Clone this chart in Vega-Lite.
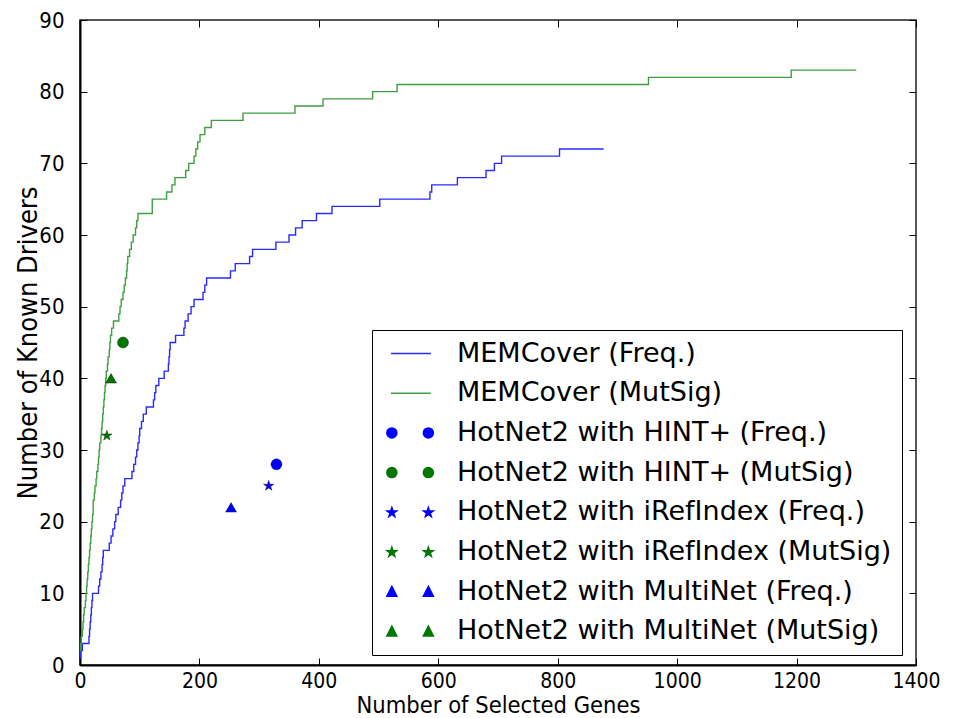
{
  "$schema": "https://vega.github.io/schema/vega-lite/v6.json",
  "width": 836,
  "height": 645,
  "autosize": {"type": "none"},
  "padding": {"left": 80, "top": 20, "right": 45, "bottom": 53},
  "background": "white",
  "config": {"view": {"stroke": "#222222", "strokeWidth": 1.5}},
  "datasets": {
    "curves": [
      {"series": "MEMCover (Freq.)", "genes": 0, "drivers": 1},
      {"series": "MEMCover (Freq.)", "genes": 1, "drivers": 2},
      {"series": "MEMCover (Freq.)", "genes": 4, "drivers": 3},
      {"series": "MEMCover (Freq.)", "genes": 15, "drivers": 4},
      {"series": "MEMCover (Freq.)", "genes": 16, "drivers": 5},
      {"series": "MEMCover (Freq.)", "genes": 17, "drivers": 6},
      {"series": "MEMCover (Freq.)", "genes": 18, "drivers": 7},
      {"series": "MEMCover (Freq.)", "genes": 19, "drivers": 8},
      {"series": "MEMCover (Freq.)", "genes": 20, "drivers": 9},
      {"series": "MEMCover (Freq.)", "genes": 21, "drivers": 10},
      {"series": "MEMCover (Freq.)", "genes": 31, "drivers": 11},
      {"series": "MEMCover (Freq.)", "genes": 33, "drivers": 12},
      {"series": "MEMCover (Freq.)", "genes": 35, "drivers": 13},
      {"series": "MEMCover (Freq.)", "genes": 37, "drivers": 14},
      {"series": "MEMCover (Freq.)", "genes": 38, "drivers": 15},
      {"series": "MEMCover (Freq.)", "genes": 39, "drivers": 16},
      {"series": "MEMCover (Freq.)", "genes": 49, "drivers": 17},
      {"series": "MEMCover (Freq.)", "genes": 52, "drivers": 18},
      {"series": "MEMCover (Freq.)", "genes": 55, "drivers": 19},
      {"series": "MEMCover (Freq.)", "genes": 58, "drivers": 20},
      {"series": "MEMCover (Freq.)", "genes": 60, "drivers": 21},
      {"series": "MEMCover (Freq.)", "genes": 64, "drivers": 22},
      {"series": "MEMCover (Freq.)", "genes": 68, "drivers": 23},
      {"series": "MEMCover (Freq.)", "genes": 70, "drivers": 24},
      {"series": "MEMCover (Freq.)", "genes": 72, "drivers": 25},
      {"series": "MEMCover (Freq.)", "genes": 75, "drivers": 26},
      {"series": "MEMCover (Freq.)", "genes": 87, "drivers": 27},
      {"series": "MEMCover (Freq.)", "genes": 90, "drivers": 28},
      {"series": "MEMCover (Freq.)", "genes": 93, "drivers": 29},
      {"series": "MEMCover (Freq.)", "genes": 95, "drivers": 30},
      {"series": "MEMCover (Freq.)", "genes": 97, "drivers": 31},
      {"series": "MEMCover (Freq.)", "genes": 99, "drivers": 32},
      {"series": "MEMCover (Freq.)", "genes": 100, "drivers": 33},
      {"series": "MEMCover (Freq.)", "genes": 103, "drivers": 34},
      {"series": "MEMCover (Freq.)", "genes": 106, "drivers": 35},
      {"series": "MEMCover (Freq.)", "genes": 111, "drivers": 36},
      {"series": "MEMCover (Freq.)", "genes": 123, "drivers": 37},
      {"series": "MEMCover (Freq.)", "genes": 125, "drivers": 38},
      {"series": "MEMCover (Freq.)", "genes": 127, "drivers": 39},
      {"series": "MEMCover (Freq.)", "genes": 132, "drivers": 40},
      {"series": "MEMCover (Freq.)", "genes": 141, "drivers": 41},
      {"series": "MEMCover (Freq.)", "genes": 148, "drivers": 42},
      {"series": "MEMCover (Freq.)", "genes": 149, "drivers": 43},
      {"series": "MEMCover (Freq.)", "genes": 150, "drivers": 44},
      {"series": "MEMCover (Freq.)", "genes": 151, "drivers": 45},
      {"series": "MEMCover (Freq.)", "genes": 160, "drivers": 46},
      {"series": "MEMCover (Freq.)", "genes": 174, "drivers": 47},
      {"series": "MEMCover (Freq.)", "genes": 176, "drivers": 48},
      {"series": "MEMCover (Freq.)", "genes": 181, "drivers": 49},
      {"series": "MEMCover (Freq.)", "genes": 186, "drivers": 50},
      {"series": "MEMCover (Freq.)", "genes": 191, "drivers": 51},
      {"series": "MEMCover (Freq.)", "genes": 206, "drivers": 52},
      {"series": "MEMCover (Freq.)", "genes": 209, "drivers": 53},
      {"series": "MEMCover (Freq.)", "genes": 212, "drivers": 54},
      {"series": "MEMCover (Freq.)", "genes": 252, "drivers": 55},
      {"series": "MEMCover (Freq.)", "genes": 260, "drivers": 56},
      {"series": "MEMCover (Freq.)", "genes": 284, "drivers": 57},
      {"series": "MEMCover (Freq.)", "genes": 289, "drivers": 58},
      {"series": "MEMCover (Freq.)", "genes": 328, "drivers": 59},
      {"series": "MEMCover (Freq.)", "genes": 350, "drivers": 60},
      {"series": "MEMCover (Freq.)", "genes": 361, "drivers": 61},
      {"series": "MEMCover (Freq.)", "genes": 372, "drivers": 62},
      {"series": "MEMCover (Freq.)", "genes": 396, "drivers": 63},
      {"series": "MEMCover (Freq.)", "genes": 422, "drivers": 64},
      {"series": "MEMCover (Freq.)", "genes": 502, "drivers": 65},
      {"series": "MEMCover (Freq.)", "genes": 586, "drivers": 66},
      {"series": "MEMCover (Freq.)", "genes": 589, "drivers": 67},
      {"series": "MEMCover (Freq.)", "genes": 632, "drivers": 68},
      {"series": "MEMCover (Freq.)", "genes": 680, "drivers": 69},
      {"series": "MEMCover (Freq.)", "genes": 694, "drivers": 70},
      {"series": "MEMCover (Freq.)", "genes": 706, "drivers": 71},
      {"series": "MEMCover (Freq.)", "genes": 803, "drivers": 72},
      {"series": "MEMCover (Freq.)", "genes": 877, "drivers": 72},
      {"series": "MEMCover (MutSig)", "genes": 0, "drivers": 2},
      {"series": "MEMCover (MutSig)", "genes": 1, "drivers": 3},
      {"series": "MEMCover (MutSig)", "genes": 2, "drivers": 4},
      {"series": "MEMCover (MutSig)", "genes": 4, "drivers": 5},
      {"series": "MEMCover (MutSig)", "genes": 5, "drivers": 6},
      {"series": "MEMCover (MutSig)", "genes": 6, "drivers": 7},
      {"series": "MEMCover (MutSig)", "genes": 7, "drivers": 8},
      {"series": "MEMCover (MutSig)", "genes": 9, "drivers": 9},
      {"series": "MEMCover (MutSig)", "genes": 10, "drivers": 10},
      {"series": "MEMCover (MutSig)", "genes": 11, "drivers": 11},
      {"series": "MEMCover (MutSig)", "genes": 12, "drivers": 12},
      {"series": "MEMCover (MutSig)", "genes": 13, "drivers": 13},
      {"series": "MEMCover (MutSig)", "genes": 14, "drivers": 14},
      {"series": "MEMCover (MutSig)", "genes": 15, "drivers": 15},
      {"series": "MEMCover (MutSig)", "genes": 16, "drivers": 16},
      {"series": "MEMCover (MutSig)", "genes": 17, "drivers": 17},
      {"series": "MEMCover (MutSig)", "genes": 18, "drivers": 18},
      {"series": "MEMCover (MutSig)", "genes": 19, "drivers": 19},
      {"series": "MEMCover (MutSig)", "genes": 20, "drivers": 20},
      {"series": "MEMCover (MutSig)", "genes": 21, "drivers": 21},
      {"series": "MEMCover (MutSig)", "genes": 22, "drivers": 23},
      {"series": "MEMCover (MutSig)", "genes": 24, "drivers": 24},
      {"series": "MEMCover (MutSig)", "genes": 25, "drivers": 25},
      {"series": "MEMCover (MutSig)", "genes": 27, "drivers": 26},
      {"series": "MEMCover (MutSig)", "genes": 28, "drivers": 27},
      {"series": "MEMCover (MutSig)", "genes": 30, "drivers": 28},
      {"series": "MEMCover (MutSig)", "genes": 31, "drivers": 29},
      {"series": "MEMCover (MutSig)", "genes": 32, "drivers": 30},
      {"series": "MEMCover (MutSig)", "genes": 33, "drivers": 31},
      {"series": "MEMCover (MutSig)", "genes": 35, "drivers": 32},
      {"series": "MEMCover (MutSig)", "genes": 36, "drivers": 33},
      {"series": "MEMCover (MutSig)", "genes": 37, "drivers": 34},
      {"series": "MEMCover (MutSig)", "genes": 38, "drivers": 35},
      {"series": "MEMCover (MutSig)", "genes": 39, "drivers": 36},
      {"series": "MEMCover (MutSig)", "genes": 40, "drivers": 37},
      {"series": "MEMCover (MutSig)", "genes": 41, "drivers": 38},
      {"series": "MEMCover (MutSig)", "genes": 42, "drivers": 39},
      {"series": "MEMCover (MutSig)", "genes": 43, "drivers": 40},
      {"series": "MEMCover (MutSig)", "genes": 44, "drivers": 41},
      {"series": "MEMCover (MutSig)", "genes": 46, "drivers": 42},
      {"series": "MEMCover (MutSig)", "genes": 47, "drivers": 43},
      {"series": "MEMCover (MutSig)", "genes": 49, "drivers": 44},
      {"series": "MEMCover (MutSig)", "genes": 50, "drivers": 45},
      {"series": "MEMCover (MutSig)", "genes": 51, "drivers": 46},
      {"series": "MEMCover (MutSig)", "genes": 53, "drivers": 47},
      {"series": "MEMCover (MutSig)", "genes": 56, "drivers": 48},
      {"series": "MEMCover (MutSig)", "genes": 65, "drivers": 49},
      {"series": "MEMCover (MutSig)", "genes": 67, "drivers": 50},
      {"series": "MEMCover (MutSig)", "genes": 69, "drivers": 51},
      {"series": "MEMCover (MutSig)", "genes": 72, "drivers": 52},
      {"series": "MEMCover (MutSig)", "genes": 74, "drivers": 53},
      {"series": "MEMCover (MutSig)", "genes": 76, "drivers": 54},
      {"series": "MEMCover (MutSig)", "genes": 78, "drivers": 55},
      {"series": "MEMCover (MutSig)", "genes": 79, "drivers": 56},
      {"series": "MEMCover (MutSig)", "genes": 80, "drivers": 57},
      {"series": "MEMCover (MutSig)", "genes": 83, "drivers": 58},
      {"series": "MEMCover (MutSig)", "genes": 86, "drivers": 59},
      {"series": "MEMCover (MutSig)", "genes": 89, "drivers": 60},
      {"series": "MEMCover (MutSig)", "genes": 93, "drivers": 61},
      {"series": "MEMCover (MutSig)", "genes": 95, "drivers": 62},
      {"series": "MEMCover (MutSig)", "genes": 97, "drivers": 63},
      {"series": "MEMCover (MutSig)", "genes": 121, "drivers": 65},
      {"series": "MEMCover (MutSig)", "genes": 145, "drivers": 66},
      {"series": "MEMCover (MutSig)", "genes": 154, "drivers": 67},
      {"series": "MEMCover (MutSig)", "genes": 159, "drivers": 68},
      {"series": "MEMCover (MutSig)", "genes": 177, "drivers": 69},
      {"series": "MEMCover (MutSig)", "genes": 182, "drivers": 70},
      {"series": "MEMCover (MutSig)", "genes": 191, "drivers": 71},
      {"series": "MEMCover (MutSig)", "genes": 194, "drivers": 72},
      {"series": "MEMCover (MutSig)", "genes": 197, "drivers": 73},
      {"series": "MEMCover (MutSig)", "genes": 201, "drivers": 74},
      {"series": "MEMCover (MutSig)", "genes": 209, "drivers": 75},
      {"series": "MEMCover (MutSig)", "genes": 220, "drivers": 76},
      {"series": "MEMCover (MutSig)", "genes": 273, "drivers": 77},
      {"series": "MEMCover (MutSig)", "genes": 360, "drivers": 78},
      {"series": "MEMCover (MutSig)", "genes": 407, "drivers": 79},
      {"series": "MEMCover (MutSig)", "genes": 490, "drivers": 80},
      {"series": "MEMCover (MutSig)", "genes": 531, "drivers": 81},
      {"series": "MEMCover (MutSig)", "genes": 952, "drivers": 82},
      {"series": "MEMCover (MutSig)", "genes": 1191, "drivers": 83},
      {"series": "MEMCover (MutSig)", "genes": 1300, "drivers": 83}
    ],
    "points": [
      {"series": "HotNet2 with HINT+ (Freq.)", "genes": 329, "drivers": 28},
      {"series": "HotNet2 with HINT+ (MutSig)", "genes": 72, "drivers": 45},
      {"series": "HotNet2 with iRefIndex (Freq.)", "genes": 316, "drivers": 25},
      {"series": "HotNet2 with iRefIndex (MutSig)", "genes": 45, "drivers": 32},
      {"series": "HotNet2 with MultiNet (Freq.)", "genes": 253, "drivers": 22},
      {"series": "HotNet2 with MultiNet (MutSig)", "genes": 52, "drivers": 40}
    ]
  },
  "layer": [
    {
      "data": {"name": "curves"},
      "mark": {"type": "line", "interpolate": "step-after", "strokeWidth": 1.4},
      "encoding": {
        "x": {
          "field": "genes", "type": "quantitative",
          "scale": {"domain": [0, 1400], "nice": false},
          "axis": {
            "orient": "bottom", "values": [0, 200, 400, 600, 800, 1000, 1200, 1400], "format": "d",
            "title": "Number of Selected Genes",
            "labelFont": "DejaVu Sans Condensed", "labelFontSize": 21, "labelColor": "#000000",
            "titleFont": "DejaVu Sans Condensed", "titleFontSize": 23.5, "titleFontWeight": "normal", "titleColor": "#000000",
            "titlePadding": 2,
            "domainColor": "#000000", "domainWidth": 2, "ticks": false, "tickSize": 0,
            "grid": true, "gridColor": "#000000", "gridOpacity": 1, "gridWidth": 1, "gridDash": [7, 631, 7, 1000],
            "labelPadding": 5, "labelFlush": false, "labelOverlap": false
          }
        },
        "y": {
          "field": "drivers", "type": "quantitative",
          "scale": {"domain": [0, 90], "nice": false},
          "axis": {
            "orient": "left", "values": [0, 10, 20, 30, 40, 50, 60, 70, 80, 90],
            "title": "Number of Known Drivers",
            "labelFont": "DejaVu Sans Condensed", "labelFontSize": 22, "labelColor": "#000000",
            "titleFont": "DejaVu Sans Condensed", "titleFontSize": 27, "titleFontWeight": "normal", "titleColor": "#000000",
            "titleBaseline": "middle", "titleX": -52,
            "domainColor": "#000000", "domainWidth": 2, "ticks": false, "tickSize": 0,
            "grid": true, "gridColor": "#000000", "gridOpacity": 1, "gridWidth": 1, "gridDash": [7, 822, 7, 1000],
            "labelPadding": 16, "labelFlush": false, "labelOverlap": false
          }
        },
        "color": {
          "field": "series", "type": "nominal",
          "scale": {
            "domain": ["MEMCover (Freq.)", "MEMCover (MutSig)", "HotNet2 with HINT+ (Freq.)", "HotNet2 with HINT+ (MutSig)", "HotNet2 with iRefIndex (Freq.)", "HotNet2 with iRefIndex (MutSig)", "HotNet2 with MultiNet (Freq.)", "HotNet2 with MultiNet (MutSig)"],
            "range": ["#2a2aff", "#3f9f3f", "#0000ff", "#007800", "#0000ff", "#007800", "#0000ff", "#007800"]
          },
          "legend": {
            "orient": "none", "legendX": 292, "legendY": 310, "title": null,
            "strokeColor": "#000000", "fillColor": "#ffffff", "padding": 10,
            "labelFont": "DejaVu Sans", "labelFontSize": 27, "labelColor": "#000000", "labelLimit": 600,
            "symbolSize": 100, "labelOffset": 48, "rowPadding": 11.7,
            "encode": {
              "symbols": {
                "update": {
                  "shape": {"signal": "datum.index < 2 ? 'M -0.9 0 L 7.07 0' : datum.index < 4 ? 'M 0.27 0 A 1 1 0 1 1 -1.73 0 A 1 1 0 1 1 0.27 0 Z M 7.57 0 A 1 1 0 1 1 5.57 0 A 1 1 0 1 1 7.57 0 Z' : datum.index < 6 ? 'M -0.73 -0.95 L -0.505 -0.259 L 0.221 -0.259 L -0.367 0.168 L -0.142 0.859 L -0.73 0.432 L -1.318 0.859 L -1.093 0.168 L -1.681 -0.259 L -0.955 -0.259 Z M 6.57 -0.95 L 6.795 -0.259 L 7.521 -0.259 L 6.933 0.168 L 7.158 0.859 L 6.57 0.432 L 5.982 0.859 L 6.207 0.168 L 5.619 -0.259 L 6.345 -0.259 Z' : 'M -0.73 -1.05 L 0.27 0.9 L -1.73 0.9 Z M 6.57 -1.05 L 7.57 0.9 L 5.57 0.9 Z'"},
                  "fill": {"signal": "datum.index < 2 ? 'transparent' : (datum.index % 2 == 0 ? '#0000ff' : '#007800')"},
                  "stroke": {"signal": "datum.index == 0 ? '#2a2aff' : (datum.index == 1 ? '#3f9f3f' : 'transparent')"},
                  "strokeWidth": {"value": 1.5},
                  "opacity": {"value": 1}
                }
              }
            }
          }
        }
      }
    },
    {
      "data": {"name": "points"},
      "mark": {"type": "point", "filled": true, "size": 120, "opacity": 1, "stroke": "#000000", "strokeWidth": 0.4},
      "encoding": {
        "x": {"field": "genes", "type": "quantitative"},
        "y": {"field": "drivers", "type": "quantitative"},
        "color": {"field": "series", "type": "nominal"},
        "shape": {
          "field": "series", "type": "nominal",
          "scale": {
            "domain": ["HotNet2 with HINT+ (Freq.)", "HotNet2 with HINT+ (MutSig)", "HotNet2 with iRefIndex (Freq.)", "HotNet2 with iRefIndex (MutSig)", "HotNet2 with MultiNet (Freq.)", "HotNet2 with MultiNet (MutSig)"],
            "range": ["circle", "circle", "M 0 -1 L 0.225 -0.309 L 0.951 -0.309 L 0.363 0.118 L 0.588 0.809 L 0 0.382 L -0.588 0.809 L -0.363 0.118 L -0.951 -0.309 L -0.225 -0.309 Z", "M 0 -1 L 0.225 -0.309 L 0.951 -0.309 L 0.363 0.118 L 0.588 0.809 L 0 0.382 L -0.588 0.809 L -0.363 0.118 L -0.951 -0.309 L -0.225 -0.309 Z", "triangle-up", "triangle-up"]
          },
          "legend": null
        }
      }
    }
  ]
}
